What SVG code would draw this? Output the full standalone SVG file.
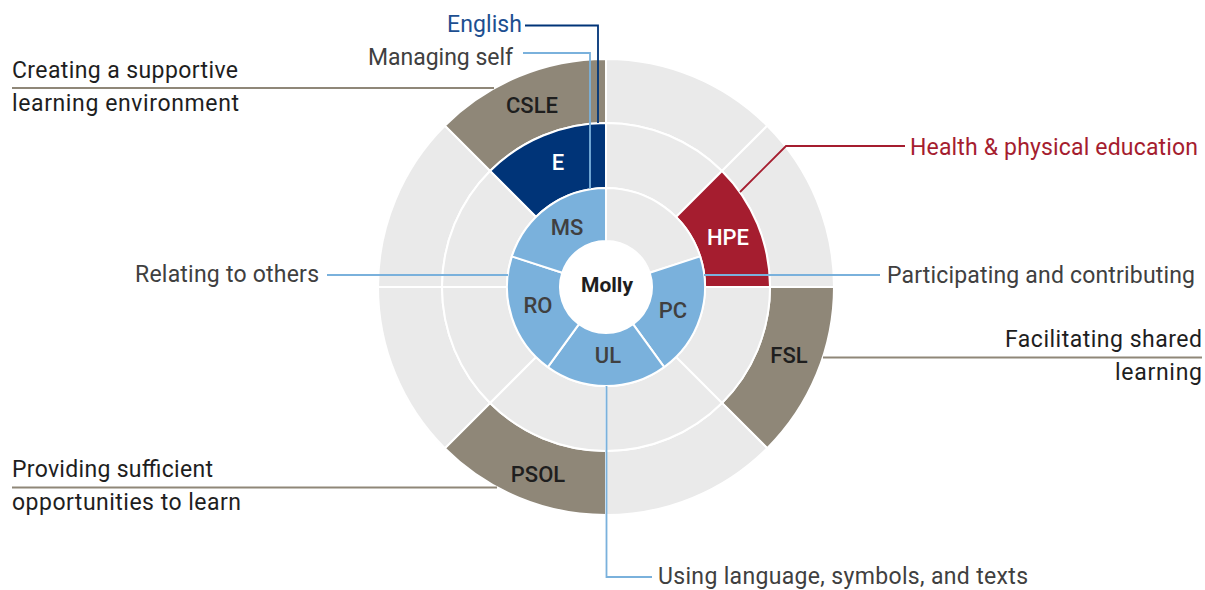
<svg xmlns="http://www.w3.org/2000/svg" width="1205" height="590" viewBox="0 0 1205 590">
<style>
.seg{stroke:#ffffff;stroke-width:2;stroke-linejoin:round}
.grey{fill:#eaeaea}
.tan{fill:#8f8778}
.dblue{fill:#003478}
.lblue{fill:#7ab1dc}
.red{fill:#a51d2f}
.slab{font-family:Roboto,"Liberation Sans",sans-serif;font-size:22px;font-weight:500;text-anchor:middle}
.lab{font-family:Roboto,"Liberation Sans",sans-serif;font-size:23px;font-weight:400}
.g{fill:#404040}
.k{fill:#1e1e1e}
.w{fill:#ffffff}
.conn{fill:none;stroke-width:1.8}
</style>
<rect width="1205" height="590" fill="#ffffff"/>
<g id="outer-ring">
<path id="seg-CSLE" class="seg tan" d="M444.78,125.78 A228,228 0 0 1 606,59 L606,123 A164,164 0 0 0 490.03,171.03 Z"/>
<path class="seg grey" d="M606,59 A228,228 0 0 1 767.22,125.78 L721.97,171.03 A164,164 0 0 0 606,123 Z"/>
<path class="seg grey" d="M767.22,125.78 A228,228 0 0 1 834,287 L770,287 A164,164 0 0 0 721.97,171.03 Z"/>
<path id="seg-FSL" class="seg tan" d="M834,287 A228,228 0 0 1 767.22,448.22 L721.97,402.97 A164,164 0 0 0 770,287 Z"/>
<path class="seg grey" d="M767.22,448.22 A228,228 0 0 1 606,515 L606,451 A164,164 0 0 0 721.97,402.97 Z"/>
<path id="seg-PSOL" class="seg tan" d="M606,515 A228,228 0 0 1 444.78,448.22 L490.03,402.97 A164,164 0 0 0 606,451 Z"/>
<path class="seg grey" d="M444.78,448.22 A228,228 0 0 1 378,287 L442,287 A164,164 0 0 0 490.03,402.97 Z"/>
<path class="seg grey" d="M378,287 A228,228 0 0 1 444.78,125.78 L490.03,171.03 A164,164 0 0 0 442,287 Z"/>
</g>
<g id="middle-ring">
<path id="seg-E" class="seg dblue" d="M490.03,171.03 A164,164 0 0 1 606,123 L606,188 A99,99 0 0 0 536,217 Z"/>
<path class="seg grey" d="M606,123 A164,164 0 0 1 721.97,171.03 L676,217 A99,99 0 0 0 606,188 Z"/>
<path id="seg-HPE" class="seg red" d="M721.97,171.03 A164,164 0 0 1 770,287 L705,287 A99,99 0 0 0 676,217 Z"/>
<path class="seg grey" d="M770,287 A164,164 0 0 1 721.97,402.97 L676,357 A99,99 0 0 0 705,287 Z"/>
<path class="seg grey" d="M721.97,402.97 A164,164 0 0 1 606,451 L606,386 A99,99 0 0 0 676,357 Z"/>
<path class="seg grey" d="M606,451 A164,164 0 0 1 490.03,402.97 L536,357 A99,99 0 0 0 606,386 Z"/>
<path class="seg grey" d="M490.03,402.97 A164,164 0 0 1 442,287 L507,287 A99,99 0 0 0 536,357 Z"/>
<path class="seg grey" d="M442,287 A164,164 0 0 1 490.03,171.03 L536,217 A99,99 0 0 0 507,287 Z"/>
</g>
<g id="inner-ring">
<path class="seg grey" d="M606,188 A99,99 0 0 1 700.16,256.41 L649.75,272.79 A46,46 0 0 0 606,241 Z"/>
<path id="seg-PC" class="seg lblue" d="M700.16,256.41 A99,99 0 0 1 664.19,367.09 L633.04,324.21 A46,46 0 0 0 649.75,272.79 Z"/>
<path id="seg-UL" class="seg lblue" d="M664.19,367.09 A99,99 0 0 1 547.81,367.09 L578.96,324.21 A46,46 0 0 0 633.04,324.21 Z"/>
<path id="seg-RO" class="seg lblue" d="M547.81,367.09 A99,99 0 0 1 511.84,256.41 L562.25,272.79 A46,46 0 0 0 578.96,324.21 Z"/>
<path id="seg-MS" class="seg lblue" d="M511.84,256.41 A99,99 0 0 1 606,188 L606,241 A46,46 0 0 0 562.25,272.79 Z"/>
<circle cx="606" cy="287" r="46" fill="#ffffff"/>
</g>
<g id="connectors">
<polyline class="conn" stroke="#8f8778" points="12,88 494,88"/>
<polyline class="conn" stroke="#8f8778" points="823,357.5 1202,357.5"/>
<polyline class="conn" stroke="#8f8778" points="12,487.5 497,487.5"/>
<polyline class="conn" stroke="#003478" points="525,25.5 598,25.5 598,123"/>
<polyline class="conn" stroke="#7ab1dc" points="523,53 590,53 590,189"/>
<polyline class="conn" stroke="#a51d2f" points="740,192 786,146 905,146"/>
<polyline class="conn" stroke="#7ab1dc" points="327,275 508,275"/>
<polyline class="conn" stroke="#7ab1dc" points="704,275 880,275"/>
<polyline class="conn" stroke="#7ab1dc" points="606.5,386 606.5,577 652,577"/>
</g>
<g id="node-labels">
<text class="slab k" x="532" y="113">CSLE</text>
<text class="slab w" x="558" y="170">E</text>
<text class="slab g" x="567" y="235">MS</text>
<text class="slab w" x="728" y="245">HPE</text>
<text class="slab g" x="538" y="313">RO</text>
<text class="slab g" x="673" y="318">PC</text>
<text class="slab g" x="608" y="363">UL</text>
<text class="slab k" x="789" y="363">FSL</text>
<text class="slab k" x="538" y="482">PSOL</text>
<text class="slab k" x="607" y="292" style="font-size:21px;font-weight:700">Molly</text>
</g>
<g id="labels">
<text class="lab" x="522" y="32" text-anchor="end" fill="#1d4f91" textLength="75">English</text>
<text class="lab g" x="513" y="65" text-anchor="end" textLength="145">Managing self</text>
<text class="lab k" x="12" y="78" textLength="226">Creating a supportive</text>
<text class="lab k" x="12" y="111" textLength="227">learning environment</text>
<text class="lab" x="910" y="155" fill="#a51d2f" textLength="288">Health &amp; physical education</text>
<text class="lab g" x="319" y="282" text-anchor="end" textLength="184">Relating to others</text>
<text class="lab g" x="887" y="283" textLength="308">Participating and contributing</text>
<text class="lab k" x="1202" y="347" text-anchor="end" textLength="197">Facilitating shared</text>
<text class="lab k" x="1202" y="380" text-anchor="end" textLength="87">learning</text>
<text class="lab k" x="12" y="477" textLength="201">Providing sufficient</text>
<text class="lab k" x="12" y="510" textLength="229">opportunities to learn</text>
<text class="lab g" x="658" y="584" textLength="370">Using language, symbols, and texts</text>
</g>
</svg>
